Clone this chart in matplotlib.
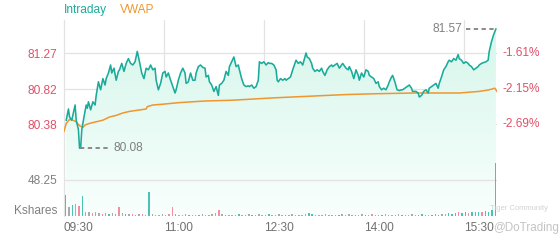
import numpy as np
import matplotlib
matplotlib.use('Agg')
import matplotlib.pyplot as plt
from matplotlib.patches import Polygon

plt.rcParams['font.family'] = ['Liberation Sans', 'DejaVu Sans']

# minutes after 09:30 and price
intraday_t = [2, 4, 5, 7, 9, 10, 11, 13, 14, 15, 16, 18, 20, 21, 22, 24, 26, 28, 29, 31,
              33, 35, 37, 38, 40, 42, 43, 45, 47, 49, 50, 52, 54, 56, 58, 60, 62, 64, 66, 68,
              70, 72, 74, 76, 78, 80, 82, 83, 85, 87, 89, 91, 92, 94, 96, 98, 100, 101, 103, 105,
              107, 109, 110, 112, 114, 116, 118, 119, 121, 123, 125, 127, 128, 130, 131, 133, 135, 137, 139, 140,
              142, 144, 146, 148, 149, 151, 153, 155, 157, 158, 160, 162, 164, 166, 167, 169, 171, 173, 175, 176,
              178, 180, 182, 184, 185, 187, 189, 191, 192, 193, 195, 197, 199, 200, 202, 204, 206, 208, 209, 211,
              213, 215, 217, 218, 219, 221, 223, 224, 226, 228, 230, 232, 233, 235, 237, 239, 241, 242, 244, 246,
              248, 250, 251, 254, 256, 257, 259, 261, 263, 265, 266, 268, 270, 272, 274, 275, 277, 279, 281, 283,
              284, 286, 288, 290, 292, 293, 295, 296, 298, 300, 302, 304, 305, 307, 309, 311, 313, 314, 317, 319,
              320, 322, 324, 326, 328, 329, 331, 333, 335, 337, 338, 340, 342, 344, 346, 347, 349, 351, 353, 355,
              356, 358, 360, 362, 364, 365, 367, 369, 371, 373, 374, 376, 378, 380, 382, 383, 385, 387, 389]
intraday_p = [80.43, 80.57, 80.47, 80.43, 80.56, 80.62, 80.43, 80.31, 80.08, 80.08, 80.31, 80.47, 80.62, 80.58, 80.66, 80.56, 80.66, 80.62, 80.74, 80.91,
              80.81, 80.95, 80.87, 80.95, 81.02, 81.12, 81.02, 81.08, 80.93, 81.04, 81.06, 81.14, 81.04, 81.14, 81.20, 81.14, 81.12, 81.16, 81.29, 81.16,
              81.02, 80.95, 81.08, 81.06, 81.12, 81.06, 81.08, 80.93, 80.81, 80.89, 81.02, 81.04, 80.97, 81.02, 80.93, 80.85, 80.77, 80.81, 80.93, 81.02,
              81.08, 81.02, 80.89, 80.91, 81.02, 80.93, 80.93, 81.02, 81.10, 81.12, 81.09, 81.08, 80.97, 80.99, 80.91, 80.87, 80.79, 80.85, 80.74, 80.87,
              80.89, 80.93, 81.04, 80.99, 81.10, 81.16, 81.22, 81.10, 81.12, 81.06, 80.95, 80.87, 80.85, 80.86, 80.85, 80.87, 80.83, 80.85, 80.93, 81.16,
              81.14, 81.16, 81.12, 81.15, 81.14, 81.14, 81.12, 81.06, 80.93, 80.91, 80.95, 80.93, 80.95, 80.93, 80.95, 80.97, 81.06, 81.14, 81.18, 81.14,
              81.16, 81.12, 81.22, 81.27, 81.22, 81.20, 81.14, 81.08, 81.04, 81.06, 81.04, 81.08, 81.04, 80.99, 81.06, 81.10, 81.12, 81.10, 81.12, 81.14,
              81.08, 81.12, 81.14, 81.08, 81.06, 81.10, 81.04, 80.95, 81.06, 80.99, 80.93, 81.02, 80.97, 81.06, 81.04, 80.99, 80.97, 80.95, 80.89, 80.91,
              80.85, 80.81, 80.83, 80.81, 80.87, 80.91, 80.97, 80.99, 80.91, 80.81, 80.80, 80.81, 80.81, 80.83, 80.85, 80.87, 80.83, 80.79, 80.79, 80.77,
              80.72, 80.74, 80.79, 80.81, 80.77, 80.83, 80.85, 80.87, 80.89, 80.83, 80.89, 80.97, 81.06, 81.10, 81.16, 81.18, 81.16, 81.20, 81.18, 81.25,
              81.20, 81.18, 81.14, 81.16, 81.14, 81.12, 81.10, 81.06, 81.08, 81.10, 81.12, 81.14, 81.15, 81.16, 81.18, 81.29, 81.41, 81.50, 81.57]

vwap_t = [0, 2, 5, 8, 11, 14, 17, 19, 23, 29, 35, 41, 47, 53, 59, 74, 75, 80, 89, 104,
          127, 152, 190, 253, 278, 316, 356, 374, 383, 388, 390]
vwap_p = [80.29, 80.39, 80.44, 80.43, 80.41, 80.36, 80.34, 80.37, 80.39, 80.41, 80.43, 80.47, 80.49, 80.52, 80.54, 80.57, 80.60, 80.62, 80.63, 80.65,
          80.67, 80.68, 80.71, 80.75, 80.76, 80.77, 80.77, 80.79, 80.81, 80.83, 80.79]

# volume in 3-minute buckets, thousand shares
vol_k = [28, 12, 15, 16, 14, 27, 6, 5, 4, 5,
         4, 3, 4, 3, 4, 3, 12, 4, 3, 3,
         3, 2, 3, 3, 2, 32, 3, 2, 2, 3,
         2, 3, 12, 3, 2, 2, 3, 2, 2, 2,
         2, 3, 2, 2, 3, 4, 8, 3, 2, 2,
         2, 2, 3, 2, 2, 3, 2, 2, 3, 2,
         2, 3, 2, 2, 3, 2, 2, 2, 3, 2,
         2, 2, 3, 4, 3, 2, 2, 2, 3, 2,
         2, 2, 2, 3, 2, 3, 2, 2, 2, 3,
         2, 2, 3, 2, 2, 2, 3, 2, 2, 2,
         3, 2, 2, 2, 3, 2, 2, 3, 2, 2,
         2, 3, 2, 3, 3, 4, 3, 4, 5, 4,
         5, 4, 6, 5, 6, 5, 7, 6, 8, 71]
vol_dir = ('unuddunndn' 'ndnunndnun' 'dnndnunndn' 'nddndnnudn' 'undnnddnun'
           'dnudnnudnd' 'nundndunnd' 'ndnuundndn' 'dnundnnudn' 'undnnudndn'
           'nudnnduund' 'ununduuudu' 'uduuuduuuu')

price_ticks = [81.27, 80.82, 80.38]
pct_labels = ['-1.61%', '-2.15%', '-2.69%']
vol_tick = 48.25
time_ticks = [0, 90, 180, 270, 360]
time_labels = ['09:30', '11:00', '12:30', '14:00', '15:30']

teal = '#1aab9b'
orange = '#f0962e'
red = '#e0506a'
grey = '#808080'
grid = '#e3e3e3'
bar_colors = {'u': '#4cc2b5', 'd': '#f48ca2', 'n': '#aaaaaa'}

fig = plt.figure(figsize=(5.6, 2.4), dpi=100)
ax = fig.add_axes([64/560, 24/240, 433/560, 196/240])
ax.set_xlim(0, 390)
ax.set_ylim(79.2325, 81.6825)

for s in ['top', 'right', 'bottom']:
    ax.spines[s].set_visible(False)
ax.spines['left'].set_color(grid)
ax.spines['left'].set_linewidth(0.9)

for t in time_ticks[1:]:
    ax.axvline(t, color=grid, lw=0.9, zorder=0)
for p in price_ticks:
    ax.axhline(p, color=grid, lw=0.9, zorder=0)

# gradient fill under the intraday line
ybot = ax.get_ylim()[0]
verts = [(intraday_t[0], ybot)] + list(zip(intraday_t, intraday_p)) + [(intraday_t[-1], ybot)]
patch = Polygon(verts, closed=True, facecolor='none', edgecolor='none')
ax.add_patch(patch)
top_c = np.array([0.84, 0.965, 0.92])
bot_c = np.array([0.975, 1.0, 0.99])
g = np.linspace(0, 1, 200)[:, None]
img = top_c[None, :] * (1 - g) + bot_c[None, :] * g
img = img[:, None, :]
im = ax.imshow(img, extent=[0, 390, ybot, max(intraday_p)], aspect='auto', origin='upper', zorder=1)
im.set_clip_path(patch)

ax.plot(vwap_t, vwap_p, color=orange, lw=1.1, zorder=3)
ax.plot(intraday_t, intraday_p, color=teal, lw=1.15, zorder=4)

# high / low markers
hi = int(np.argmax(intraday_p))
lo = int(np.argmin(intraday_p))
ax.plot([intraday_t[hi] - 27, intraday_t[hi]], [intraday_p[hi]] * 2, color='#8a8a8a',
        lw=1.4, ls=(0, (2.2, 1.8)), zorder=5)
ax.text(intraday_t[hi] - 30, intraday_p[hi], f'{intraday_p[hi]:.2f}', color=grey,
        ha='right', va='center', fontsize=8.6)
ax.plot([intraday_t[lo], intraday_t[lo] + 26], [intraday_p[lo]] * 2, color='#8a8a8a',
        lw=1.4, ls=(0, (2.2, 1.8)), zorder=5)
ax.text(intraday_t[lo] + 31, intraday_p[lo], f'{intraday_p[lo]:.2f}', color=grey,
        ha='left', va='center', fontsize=8.6)

ax.set_yticks(price_ticks)
ax.set_yticklabels([f'{p:.2f}' for p in price_ticks], color=red, fontsize=8.6)
ax.tick_params(axis='y', length=0, pad=5)
ax.set_xticks(time_ticks)
ax.set_xticklabels(time_labels, color='#707070', fontsize=8.6)
ax.tick_params(axis='x', length=0, pad=4)
for lab in ax.get_xticklabels():
    lab.set_horizontalalignment('left')

for p, s in zip(price_ticks, pct_labels):
    ax.text(1.012, p, s, transform=ax.get_yaxis_transform(), color=red,
            ha='left', va='center', fontsize=8.6)

# volume
vax = ax.twinx()
vax.set_ylim(0, 196 / 36 * vol_tick)
vax.set_xlim(0, 390)
for s in vax.spines.values():
    s.set_visible(False)
vax.axhline(vol_tick, color=grid, lw=0.9, zorder=0)
bx = np.arange(len(vol_k)) * 3 + 1.5
vax.bar(bx, vol_k, width=1.3, color=[bar_colors[c] for c in vol_dir], linewidth=0, zorder=2)
vax.yaxis.tick_left()
vax.set_yticks([vol_tick])
vax.set_yticklabels([f'{vol_tick:.2f}'], color=grey, fontsize=8.6)
vax.tick_params(axis='y', length=0, pad=5)
vax.text(-0.016, 0.027, 'Kshares', transform=vax.transAxes, color=grey,
         ha='right', va='center', fontsize=8.6)

# legend
fig.text(64/560, 1 - 10/240, 'Intraday', color=teal, ha='left', va='center', fontsize=8.6)
fig.text(120/560, 1 - 10/240, 'VWAP', color=orange, ha='left', va='center', fontsize=8.6)

# watermark
fig.text(493/560, 1 - 228/240, '@DoTrading', color='#c4c4c4', ha='left', va='center', fontsize=8.4)
fig.text(490/560, 1 - 209/240, 'Tiger Community', color='#d2d2d2', ha='left', va='center', fontsize=5.5)

fig.savefig('out.png', dpi=100)
